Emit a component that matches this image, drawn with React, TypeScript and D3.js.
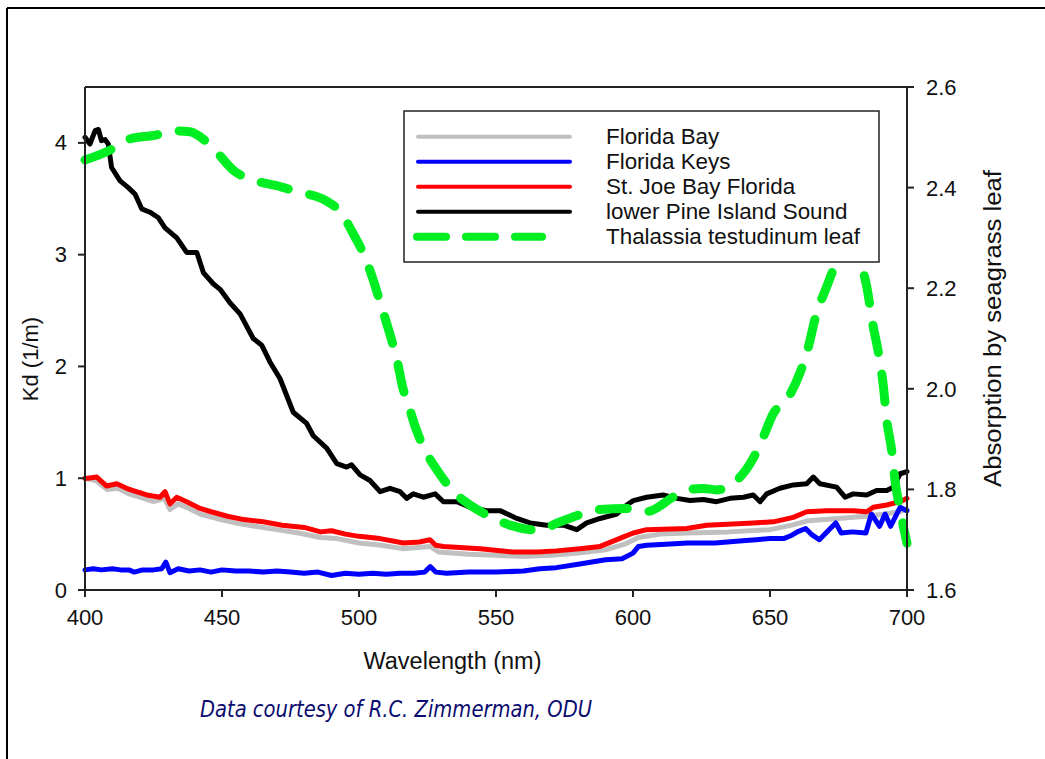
import React from "react";
import * as d3 from "d3";

// ---------- DATA ----------
const xTicks = [400, 450, 500, 550, 600, 650, 700];
const yLeftTicks = [0, 1, 2, 3, 4];
const yRightTicks = [1.6, 1.8, 2.0, 2.2, 2.4, 2.6];

const seriesNames = [
  "Florida Bay",
  "Florida Keys",
  "St. Joe Bay Florida",
  "lower Pine Island Sound",
  "Thalassia testudinum leaf",
];
const seriesColors = ["#c0c0c0", "#0000ff", "#ff0000", "#000000", "#00ee22"];

// Florida Bay (Kd, 1/m)
const bayNm = [400, 404, 408, 412, 416, 420, 425, 429, 431, 434, 438, 442, 448, 455, 462, 470, 478, 486, 492, 500, 508, 516, 526, 529, 540, 550, 560, 570, 580, 590, 597, 602, 610, 620, 635, 650, 658, 664, 675, 685, 692, 697, 700];
const bayKd = [1.0, 0.98, 0.9, 0.91, 0.86, 0.83, 0.79, 0.82, 0.72, 0.77, 0.73, 0.68, 0.64, 0.6, 0.57, 0.54, 0.51, 0.47, 0.46, 0.42, 0.4, 0.37, 0.39, 0.34, 0.32, 0.31, 0.3, 0.31, 0.33, 0.36, 0.41, 0.47, 0.5, 0.51, 0.52, 0.54, 0.58, 0.62, 0.64, 0.66, 0.68, 0.7, 0.72];

// Florida Keys
const keysNm = [400, 403, 406, 410, 413, 416, 418, 421, 425, 428, 429.5, 431, 434, 438, 442, 446, 450, 455, 460, 465, 470, 475, 480, 485, 490, 495, 500, 505, 510, 515, 520, 524, 526, 528, 532, 540, 550, 560, 566, 572, 580, 590, 596, 600, 602, 605, 612, 620, 630, 640, 645, 650, 655, 658, 660, 663, 665, 668, 672, 674, 676, 680, 685, 687, 690, 692, 694, 697.5, 700];
const keysKd = [0.18, 0.19, 0.18, 0.19, 0.18, 0.18, 0.16, 0.18, 0.18, 0.19, 0.25, 0.155, 0.19, 0.17, 0.18, 0.16, 0.18, 0.17, 0.17, 0.16, 0.17, 0.16, 0.15, 0.16, 0.13, 0.15, 0.14, 0.15, 0.14, 0.15, 0.15, 0.16, 0.21, 0.16, 0.15, 0.16, 0.16, 0.17, 0.19, 0.2, 0.23, 0.27, 0.28, 0.33, 0.39, 0.4, 0.41, 0.42, 0.42, 0.44, 0.45, 0.46, 0.46, 0.49, 0.52, 0.55, 0.5, 0.45, 0.55, 0.6, 0.51, 0.52, 0.51, 0.68, 0.57, 0.68, 0.57, 0.74, 0.71];

// St. Joe Bay Florida
const joeNm = [400, 401, 404.3, 407.9, 411.6, 415.2, 417.6, 422.5, 427.4, 429.2, 431, 433.5, 437.1, 442, 446, 452, 458, 465, 472, 480, 486, 490, 495, 500, 507.7, 516.2, 522, 525.9, 528, 530.8, 544.2, 556, 565, 572, 580.7, 588, 593, 597, 600.1, 605, 619.6, 626.9, 643.9, 651.2, 658.5, 663.4, 670.7, 680.4, 685.3, 687.7, 692.6, 697.5, 700];
const joeKd = [1.0, 1.0, 1.01, 0.93, 0.95, 0.91, 0.89, 0.85, 0.83, 0.88, 0.77, 0.83, 0.79, 0.73, 0.7, 0.66, 0.63, 0.61, 0.58, 0.56, 0.52, 0.53, 0.5, 0.48, 0.46, 0.42, 0.43, 0.45, 0.4, 0.39, 0.37, 0.34, 0.34, 0.35, 0.37, 0.39, 0.44, 0.48, 0.51, 0.54, 0.55, 0.58, 0.6, 0.61, 0.65, 0.7, 0.71, 0.71, 0.7, 0.74, 0.76, 0.79, 0.82];

// lower Pine Island Sound
const pineNm = [400, 401.8, 403.7, 404.9, 406, 407.3, 408.5, 409.7, 412.8, 415.8, 418.3, 420.7, 423.7, 426.8, 429.2, 433.5, 437.1, 440.8, 443.2, 446.8, 449.3, 452.9, 456.6, 461.4, 464.5, 467.5, 471.2, 476, 480.9, 483.3, 488.2, 491.9, 495.5, 497.3, 500.4, 504, 507.7, 511.3, 515, 517.4, 519.8, 523.5, 527.8, 530.8, 535.7, 540.5, 546.6, 551.5, 557.6, 562.4, 568.5, 574.6, 579.5, 583.1, 588, 594.1, 597.7, 600.1, 605, 611, 616, 620.8, 625.7, 630.5, 635.4, 640.3, 643.9, 646.4, 648.8, 653.6, 658.5, 663.4, 665.8, 668.2, 674.3, 677.4, 680.4, 685.3, 688.9, 692.6, 695, 697.5, 700];
const pineKd = [4.05, 3.99, 4.11, 4.12, 4.02, 4.03, 3.99, 3.78, 3.66, 3.6, 3.54, 3.41, 3.38, 3.33, 3.24, 3.15, 3.02, 3.02, 2.84, 2.74, 2.69, 2.57, 2.47, 2.25, 2.19, 2.04, 1.89, 1.59, 1.49, 1.38, 1.27, 1.13, 1.1, 1.12, 1.03, 0.98, 0.88, 0.91, 0.88, 0.82, 0.86, 0.83, 0.86, 0.79, 0.79, 0.74, 0.71, 0.71, 0.64, 0.6, 0.58, 0.58, 0.54, 0.6, 0.64, 0.68, 0.76, 0.8, 0.83, 0.85, 0.82, 0.8, 0.81, 0.79, 0.82, 0.83, 0.85, 0.79, 0.86, 0.91, 0.94, 0.95, 1.01, 0.95, 0.92, 0.83, 0.86, 0.85, 0.89, 0.89, 0.92, 1.04, 1.06];

// Thalassia testudinum leaf absorption (right axis)
const leafNm = [400, 410.3, 415.2, 426.2, 432.2, 438.3, 442, 446.8, 454.7, 461.4, 471.2, 477.3, 487.6, 493.1, 498.5, 501.6, 505.2, 507.1, 510.1, 511.9, 514.4, 515.6, 518.6, 520.5, 524.7, 528.4, 535.7, 540.5, 549, 555.1, 566, 572.2, 581.9, 588, 598.9, 605, 614.7, 619.6, 625.7, 630.5, 636.6, 643.9, 647.6, 651.2, 656.1, 660.9, 663.4, 667, 670.7, 673.1, 675.5, 679, 682.8, 685.3, 687.7, 689.6, 691.4, 692.6, 694.4, 695.6, 697.5, 700];
const leafAbs = [2.455, 2.478, 2.495, 2.505, 2.513, 2.511, 2.501, 2.478, 2.432, 2.415, 2.402, 2.392, 2.375, 2.352, 2.302, 2.269, 2.216, 2.183, 2.13, 2.097, 2.044, 2.011, 1.958, 1.925, 1.872, 1.839, 1.789, 1.769, 1.743, 1.729, 1.719, 1.733, 1.752, 1.76, 1.762, 1.756, 1.785, 1.799, 1.802, 1.799, 1.812, 1.862, 1.905, 1.951, 1.978, 2.031, 2.071, 2.15, 2.203, 2.236, 2.256, 2.29, 2.256, 2.203, 2.123, 2.071, 2.004, 1.938, 1.878, 1.819, 1.759, 1.693];

// ---------- LAYOUT ----------
const W = 1045;
const H = 759;
const plot = { left: 85, right: 907, top: 87, bottom: 590 };
const FONT = "'Liberation Sans', Arial, Helvetica, sans-serif";

const x = d3.scaleLinear().domain([400, 700]).range([plot.left, plot.right]);
const yL = d3.scaleLinear().domain([0, 4.5]).range([plot.bottom, plot.top]);
const yR = d3.scaleLinear().domain([1.6, 2.6]).range([plot.bottom, plot.top]);

function zip(nm: number[], v: number[]): [number, number][] {
  return nm.map((n, i) => [n, v[i]]);
}

const lineL = d3
  .line<[number, number]>()
  .x((d) => x(d[0]))
  .y((d) => yL(d[1]));
const lineR = d3
  .line<[number, number]>()
  .x((d) => x(d[0]))
  .y((d) => yR(d[1]))
  .curve(d3.curveMonotoneX);

const kdSeries = [
  { pts: zip(bayNm, bayKd), color: seriesColors[0] },
  { pts: zip(keysNm, keysKd), color: seriesColors[1] },
  { pts: zip(joeNm, joeKd), color: seriesColors[2] },
  { pts: zip(pineNm, pineKd), color: seriesColors[3] },
];

export default function App() {
  const axisColor = "#222";
  const tickLen = 7;
  const legend = { x: 404, y: 111, w: 475, h: 151, lineX1: 418, lineX2: 570, textX: 606, row0: 136.7, dy: 25 };

  return (
    <svg
      width={W}
      height={H}
      viewBox={`0 0 ${W} ${H}`}
      style={{ position: "absolute", left: 0, top: 0, background: "#fff" }}
    >
      <rect x={0} y={0} width={W} height={H} fill="#fff" />
      {/* outer frame (cropped) */}
      <line x1={7} y1={8} x2={W} y2={8} stroke="#000" strokeWidth={2} />
      <line x1={7} y1={8} x2={7} y2={H} stroke="#000" strokeWidth={2} />

      {/* series */}
      {kdSeries.map((s, i) => (
        <path
          key={i}
          d={lineL(s.pts) || ""}
          fill="none"
          stroke={s.color}
          strokeWidth={5}
          strokeLinejoin="round"
          strokeLinecap="round"
        />
      ))}
      <path
        d={lineR(zip(leafNm, leafAbs)) || ""}
        fill="none"
        stroke={seriesColors[4]}
        strokeWidth={9}
        strokeLinecap="round"
        strokeDasharray="28 22"
      />

      {/* plot frame */}
      <line x1={plot.left} y1={plot.top} x2={plot.right} y2={plot.top} stroke={axisColor} strokeWidth={2} />
      <line x1={plot.left} y1={plot.top} x2={plot.left} y2={plot.bottom} stroke={axisColor} strokeWidth={2} />
      <line x1={plot.right} y1={plot.top} x2={plot.right} y2={plot.bottom} stroke={axisColor} strokeWidth={2} />
      <line x1={plot.left} y1={plot.bottom} x2={plot.right} y2={plot.bottom} stroke={axisColor} strokeWidth={2} />

      {/* x axis */}
      {xTicks.map((t) => (
        <g key={"x" + t}>
          <line x1={x(t)} y1={plot.bottom} x2={x(t)} y2={plot.bottom + tickLen} stroke={axisColor} strokeWidth={2} />
          <text x={x(t)} y={625} textAnchor="middle" fontFamily={FONT} fontSize={22} fill="#111">
            {t}
          </text>
        </g>
      ))}
      {/* left axis */}
      {yLeftTicks.map((t) => (
        <g key={"l" + t}>
          <line x1={plot.left - tickLen} y1={yL(t)} x2={plot.left} y2={yL(t)} stroke={axisColor} strokeWidth={2} />
          <text x={67} y={yL(t) + 7.5} textAnchor="end" fontFamily={FONT} fontSize={22} fill="#111">
            {t}
          </text>
        </g>
      ))}
      {/* right axis */}
      {yRightTicks.map((t) => (
        <g key={"r" + t}>
          <line x1={plot.right} y1={yR(t)} x2={plot.right + tickLen} y2={yR(t)} stroke={axisColor} strokeWidth={2} />
          <text x={926} y={yR(t) + 8} textAnchor="start" fontFamily={FONT} fontSize={22} fill="#111">
            {t.toFixed(1)}
          </text>
        </g>
      ))}

      {/* axis titles */}
      <text x={452.5} y={669} textAnchor="middle" fontFamily={FONT} fontSize={23.5} fill="#111">
        Wavelength (nm)
      </text>
      <text
        transform={`translate(38,359) rotate(-90)`}
        textAnchor="middle"
        fontFamily={FONT}
        fontSize={22}
        fill="#111"
      >
        Kd (1/m)
      </text>
      <text
        transform={`translate(1001,328.5) rotate(-90)`}
        textAnchor="middle"
        fontFamily={FONT}
        fontSize={23}
        fill="#111"
        textLength={317}
        lengthAdjust="spacingAndGlyphs"
      >
        Absorption by seagrass leaf
      </text>

      {/* legend */}
      <rect x={legend.x} y={legend.y} width={legend.w} height={legend.h} fill="#fff" stroke="#222" strokeWidth={1.5} />
      {seriesNames.map((name, i) => {
        const yy = legend.row0 + i * legend.dy;
        const dashed = i === 4;
        return (
          <g key={name}>
            <line
              x1={dashed ? legend.lineX1 - 1 : legend.lineX1}
              y1={yy}
              x2={dashed ? legend.lineX1 + 124 : legend.lineX2}
              y2={yy}
              stroke={seriesColors[i]}
              strokeWidth={dashed ? 8 : 4}
              strokeLinecap="round"
              strokeDasharray={dashed ? "29 20" : undefined}
            />
            <text x={legend.textX} y={yy + 7.5} fontFamily={FONT} fontSize={22.4} fill="#111">
              {name}
            </text>
          </g>
        );
      })}

      {/* footnote */}
      <text
        x={200}
        y={717}
        fontFamily="'DejaVu Sans', Verdana, sans-serif"
        fontStyle="italic"
        fontSize={23.5}
        fill="#0b0b70"
        textLength={392}
        lengthAdjust="spacingAndGlyphs"
      >
        Data courtesy of R.C. Zimmerman, ODU
      </text>
    </svg>
  );
}
